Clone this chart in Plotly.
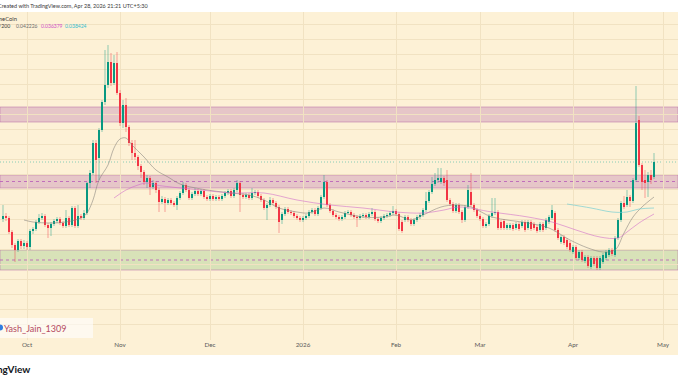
import numpy as np
import pandas as pd
import plotly.graph_objects as go

W, H = 678, 381

# ---------------- data (daily candles) ----------------
dates = pd.date_range("2025-09-23", "2026-04-28", freq="D")

open_ = [
    0.03535, 0.03640, 0.03570, 0.03080, 0.02625, 0.02450, 0.02765, 0.02590, 0.02695, 0.02555,
    0.03115, 0.03185, 0.03430, 0.03570, 0.03640, 0.03325, 0.03220, 0.03360, 0.03465, 0.03535,
    0.03395, 0.03290, 0.03570, 0.03325, 0.03920, 0.03290, 0.03640, 0.03570, 0.03745, 0.04795,
    0.05145, 0.06195, 0.05670, 0.06650, 0.07630, 0.08225, 0.09030, 0.08295, 0.08995, 0.07945,
    0.06895, 0.07525, 0.06755, 0.06195, 0.05845, 0.05705, 0.05390, 0.05180, 0.04830, 0.04970,
    0.04655, 0.04795, 0.04550, 0.04130, 0.04235, 0.04095, 0.04200, 0.04095, 0.04025, 0.04270,
    0.04445, 0.04725, 0.04550, 0.04270, 0.04410, 0.04515, 0.04410, 0.04515, 0.04305, 0.04235,
    0.04340, 0.04235, 0.04305, 0.04235, 0.04340, 0.04445, 0.04515, 0.04340, 0.04550, 0.04795,
    0.04375, 0.04305, 0.04375, 0.04270, 0.04445, 0.04480, 0.04340, 0.04200, 0.03920, 0.04025,
    0.04200, 0.04095, 0.03955, 0.03500, 0.03710, 0.03885, 0.03780, 0.03745, 0.03640, 0.03570,
    0.03500, 0.03570, 0.03640, 0.03780, 0.03850, 0.03710, 0.03920, 0.04305, 0.04830, 0.04025,
    0.03815, 0.03675, 0.03605, 0.03535, 0.03605, 0.03745, 0.03780, 0.03675, 0.03605, 0.03570,
    0.03640, 0.03675, 0.03605, 0.03710, 0.03780, 0.03535, 0.03465, 0.03570, 0.03640, 0.03675,
    0.03745, 0.03815, 0.03710, 0.03430, 0.03500, 0.03605, 0.03500, 0.03360, 0.03500, 0.03605,
    0.03675, 0.03850, 0.04165, 0.04480, 0.04760, 0.04900, 0.04830, 0.04970, 0.04900, 0.04200,
    0.04060, 0.03815, 0.04025, 0.03780, 0.03500, 0.03955, 0.04480, 0.04025, 0.03850, 0.03640,
    0.03535, 0.03290, 0.03360, 0.03640, 0.03745, 0.03780, 0.03430, 0.03465, 0.03220, 0.03220,
    0.03325, 0.03220, 0.03360, 0.03290, 0.03430, 0.03220, 0.03430, 0.03360, 0.03255, 0.03150,
    0.03360, 0.03220, 0.03430, 0.03570, 0.03745, 0.03150, 0.02730, 0.02905, 0.02800, 0.02695,
    0.02380, 0.02555, 0.02170, 0.02380, 0.02065, 0.02205, 0.01855, 0.02170, 0.02170, 0.01820,
    0.02030, 0.02170, 0.02275, 0.02450, 0.02275, 0.02870, 0.03500, 0.04095, 0.04025, 0.04305,
    0.04165, 0.04900, 0.07000, 0.05425, 0.04900, 0.04830, 0.05075, 0.05005,
]
high = [
    0.04025, 0.03745, 0.03640, 0.03150, 0.02695, 0.02835, 0.02835, 0.02800, 0.02765, 0.03185,
    0.03255, 0.03500, 0.03710, 0.03745, 0.03710, 0.03395, 0.03430, 0.03535, 0.03605, 0.03605,
    0.03465, 0.03850, 0.03640, 0.03990, 0.03990, 0.04025, 0.03710, 0.03850, 0.04830, 0.05250,
    0.06300, 0.06300, 0.06720, 0.07700, 0.09450, 0.09625, 0.09345, 0.09275, 0.09380, 0.08050,
    0.07700, 0.07770, 0.06825, 0.06300, 0.06300, 0.05775, 0.05460, 0.05250, 0.05075, 0.05040,
    0.04900, 0.04865, 0.04620, 0.04340, 0.04305, 0.04270, 0.04270, 0.04165, 0.04340, 0.04515,
    0.04830, 0.04795, 0.04620, 0.04480, 0.04620, 0.04585, 0.04585, 0.04585, 0.04375, 0.04410,
    0.04410, 0.04375, 0.04375, 0.04410, 0.04515, 0.04585, 0.04585, 0.04620, 0.04900, 0.04865,
    0.04445, 0.04445, 0.04445, 0.04620, 0.04550, 0.04550, 0.04410, 0.04270, 0.04095, 0.04305,
    0.04270, 0.04165, 0.04025, 0.03780, 0.03955, 0.03955, 0.03850, 0.03815, 0.03710, 0.03640,
    0.03640, 0.03710, 0.03850, 0.03920, 0.03920, 0.03990, 0.04375, 0.05075, 0.04900, 0.04095,
    0.03885, 0.03745, 0.03675, 0.03675, 0.03815, 0.03850, 0.03850, 0.03745, 0.03675, 0.03710,
    0.03745, 0.03745, 0.03780, 0.03920, 0.03850, 0.03605, 0.03640, 0.03710, 0.03745, 0.03815,
    0.03990, 0.03885, 0.03780, 0.03500, 0.03675, 0.03675, 0.03570, 0.03570, 0.03675, 0.03745,
    0.03920, 0.04480, 0.04550, 0.05005, 0.05145, 0.05320, 0.05320, 0.05040, 0.05250, 0.04270,
    0.04130, 0.04095, 0.04095, 0.03850, 0.04025, 0.04725, 0.05145, 0.04095, 0.03920, 0.03710,
    0.03605, 0.03430, 0.03710, 0.04270, 0.04270, 0.03850, 0.03500, 0.03535, 0.03395, 0.03395,
    0.03395, 0.03430, 0.03430, 0.03500, 0.03500, 0.03500, 0.03500, 0.03430, 0.03325, 0.03430,
    0.03430, 0.03570, 0.03675, 0.04025, 0.03815, 0.03220, 0.02975, 0.02975, 0.02870, 0.02765,
    0.02625, 0.02625, 0.02450, 0.02450, 0.02275, 0.02275, 0.02240, 0.02240, 0.02240, 0.02240,
    0.02345, 0.02450, 0.02520, 0.02520, 0.02940, 0.03570, 0.04165, 0.04340, 0.04550, 0.04375,
    0.04970, 0.08190, 0.07140, 0.05495, 0.05250, 0.05180, 0.05250, 0.05845,
]
low = [
    0.03430, 0.03465, 0.03010, 0.02520, 0.02030, 0.02380, 0.02485, 0.02485, 0.02450, 0.02450,
    0.03010, 0.03115, 0.03360, 0.03500, 0.03255, 0.02870, 0.02940, 0.03290, 0.03395, 0.03325,
    0.03220, 0.03220, 0.03255, 0.03255, 0.03220, 0.03220, 0.03500, 0.03500, 0.03675, 0.04620,
    0.05075, 0.04795, 0.04900, 0.06580, 0.07525, 0.08120, 0.08190, 0.08225, 0.07875, 0.06790,
    0.06720, 0.06580, 0.06090, 0.05600, 0.05600, 0.05250, 0.04970, 0.04725, 0.04620, 0.04375,
    0.04585, 0.04445, 0.03780, 0.04060, 0.03780, 0.04025, 0.04025, 0.03955, 0.03850, 0.04200,
    0.04375, 0.04480, 0.04200, 0.04200, 0.04340, 0.04340, 0.04340, 0.04235, 0.04165, 0.04165,
    0.04165, 0.04165, 0.04165, 0.04165, 0.04270, 0.04375, 0.04270, 0.04270, 0.04480, 0.03780,
    0.04235, 0.04235, 0.04200, 0.04200, 0.04375, 0.04270, 0.04130, 0.03850, 0.03500, 0.03955,
    0.04025, 0.03885, 0.03045, 0.03360, 0.03640, 0.03710, 0.03675, 0.03570, 0.03500, 0.03430,
    0.03430, 0.03500, 0.03570, 0.03710, 0.03640, 0.03640, 0.03850, 0.04235, 0.03955, 0.03745,
    0.03605, 0.03535, 0.03465, 0.03465, 0.03535, 0.03710, 0.03605, 0.03535, 0.03255, 0.03500,
    0.03570, 0.03535, 0.03535, 0.03640, 0.03465, 0.03395, 0.03395, 0.03500, 0.03570, 0.03605,
    0.03675, 0.03640, 0.03115, 0.03045, 0.03430, 0.03430, 0.03290, 0.03290, 0.03430, 0.03535,
    0.03605, 0.03780, 0.04095, 0.04410, 0.04690, 0.04795, 0.04760, 0.04690, 0.04130, 0.03990,
    0.03745, 0.03745, 0.03710, 0.03395, 0.03430, 0.03885, 0.03955, 0.03780, 0.03570, 0.03465,
    0.03220, 0.03220, 0.03290, 0.03570, 0.03675, 0.03150, 0.03150, 0.03150, 0.03150, 0.03150,
    0.03115, 0.03150, 0.03115, 0.03220, 0.03080, 0.03150, 0.03115, 0.03150, 0.03045, 0.03080,
    0.03080, 0.03150, 0.03360, 0.03500, 0.03080, 0.02800, 0.02660, 0.02625, 0.02485, 0.02380,
    0.02310, 0.02100, 0.02100, 0.02030, 0.01995, 0.01820, 0.01785, 0.01890, 0.01750, 0.01750,
    0.01960, 0.02100, 0.02205, 0.02240, 0.02205, 0.02800, 0.03430, 0.03885, 0.03955, 0.03955,
    0.04095, 0.04830, 0.05355, 0.04550, 0.04270, 0.04305, 0.04760, 0.04935,
]
close = [
    0.03640, 0.03570, 0.03080, 0.02625, 0.02450, 0.02765, 0.02590, 0.02695, 0.02555, 0.03115,
    0.03185, 0.03430, 0.03570, 0.03640, 0.03325, 0.03220, 0.03360, 0.03465, 0.03535, 0.03395,
    0.03290, 0.03570, 0.03325, 0.03920, 0.03290, 0.03640, 0.03570, 0.03745, 0.04795, 0.05145,
    0.06195, 0.05600, 0.06650, 0.07630, 0.08225, 0.09030, 0.08295, 0.08995, 0.07945, 0.06895,
    0.07525, 0.06755, 0.06195, 0.05845, 0.05705, 0.05390, 0.05180, 0.04830, 0.04970, 0.04655,
    0.04795, 0.04550, 0.04130, 0.04235, 0.04095, 0.04200, 0.04095, 0.04025, 0.04270, 0.04445,
    0.04725, 0.04550, 0.04270, 0.04410, 0.04515, 0.04410, 0.04515, 0.04305, 0.04235, 0.04340,
    0.04235, 0.04305, 0.04235, 0.04340, 0.04445, 0.04515, 0.04340, 0.04550, 0.04795, 0.04375,
    0.04305, 0.04375, 0.04270, 0.04445, 0.04480, 0.04340, 0.04200, 0.03920, 0.04025, 0.04200,
    0.04095, 0.03955, 0.03430, 0.03710, 0.03885, 0.03780, 0.03745, 0.03640, 0.03570, 0.03500,
    0.03570, 0.03640, 0.03780, 0.03850, 0.03710, 0.03920, 0.04305, 0.04830, 0.04025, 0.03815,
    0.03675, 0.03605, 0.03535, 0.03605, 0.03745, 0.03780, 0.03675, 0.03605, 0.03570, 0.03640,
    0.03675, 0.03605, 0.03710, 0.03780, 0.03535, 0.03465, 0.03570, 0.03640, 0.03675, 0.03745,
    0.03815, 0.03710, 0.03185, 0.03115, 0.03605, 0.03500, 0.03360, 0.03500, 0.03605, 0.03675,
    0.03850, 0.04165, 0.04480, 0.04760, 0.04900, 0.04970, 0.04970, 0.04795, 0.04200, 0.04060,
    0.03815, 0.04025, 0.03780, 0.03500, 0.03955, 0.04550, 0.04025, 0.03850, 0.03640, 0.03535,
    0.03290, 0.03360, 0.03640, 0.03745, 0.03780, 0.03220, 0.03220, 0.03220, 0.03325, 0.03325,
    0.03185, 0.03360, 0.03185, 0.03430, 0.03150, 0.03430, 0.03185, 0.03220, 0.03115, 0.03360,
    0.03150, 0.03500, 0.03605, 0.03850, 0.03150, 0.02870, 0.02905, 0.02695, 0.02555, 0.02450,
    0.02555, 0.02170, 0.02380, 0.02100, 0.02205, 0.01890, 0.02170, 0.01960, 0.01820, 0.02170,
    0.02275, 0.02380, 0.02450, 0.02310, 0.02870, 0.03500, 0.04095, 0.03955, 0.04305, 0.04165,
    0.04900, 0.06895, 0.05425, 0.04830, 0.04795, 0.05075, 0.04900, 0.05530,
]

# moving averages
ma20_dates = ["2025-09-30", "2025-10-03", "2025-10-09", "2025-10-14", "2025-10-19", "2025-10-21",
              "2025-10-23", "2025-10-25", "2025-10-28", "2025-10-30", "2025-11-01", "2025-11-03",
              "2025-11-05", "2025-11-09", "2025-11-13", "2025-11-17", "2025-11-21", "2025-11-28",
              "2025-12-08", "2025-12-14", "2025-12-19", "2025-12-24", "2025-12-30", "2026-01-03",
              "2026-01-08", "2026-01-13", "2026-01-21", "2026-01-28", "2026-02-01", "2026-02-06",
              "2026-02-10", "2026-02-16", "2026-02-21", "2026-02-26", "2026-03-05", "2026-03-17",
              "2026-03-24", "2026-03-31", "2026-04-06", "2026-04-11", "2026-04-15", "2026-04-18",
              "2026-04-21", "2026-04-24", "2026-04-28"]
ma20_vals = [0.035, 0.0343, 0.03395, 0.0343, 0.0357, 0.03745, 0.042, 0.049, 0.05425, 0.0602,
             0.06335, 0.0637, 0.06125, 0.05705, 0.0525, 0.05005, 0.0476, 0.04585, 0.04445, 0.04375,
             0.042, 0.0392, 0.0378, 0.03745, 0.0392, 0.0378, 0.03605, 0.03605, 0.03675, 0.035,
             0.03675, 0.03955, 0.04025, 0.03955, 0.03605, 0.03395, 0.0322, 0.028, 0.0252, 0.0238,
             0.0245, 0.03045, 0.03605, 0.03955, 0.04305]

ma50_dates = ["2025-10-30", "2025-11-03", "2025-11-07", "2025-11-10", "2025-11-13", "2025-11-18",
              "2025-11-28", "2025-12-08", "2025-12-19", "2025-12-30", "2026-01-10", "2026-01-21",
              "2026-02-01", "2026-02-10", "2026-02-17", "2026-02-22", "2026-03-05", "2026-03-17",
              "2026-03-25", "2026-04-02", "2026-04-10", "2026-04-16", "2026-04-19", "2026-04-23",
              "2026-04-28"]
ma50_vals = [0.0427, 0.0455, 0.04725, 0.04795, 0.04725, 0.04655, 0.0455, 0.04445, 0.04445, 0.042,
             0.04025, 0.0392, 0.0378, 0.03745, 0.0385, 0.03955, 0.0378, 0.03605, 0.0343, 0.0315,
             0.02905, 0.0287, 0.0308, 0.03395, 0.0371]

ma200_dates = ["2026-03-30", "2026-04-07", "2026-04-14", "2026-04-19", "2026-04-23", "2026-04-28"]
ma200_vals = [0.0406, 0.0392, 0.0378, 0.0378, 0.03885, 0.0392]

# support / resistance zones (low, high)
zone_upper = (0.0693, 0.07455)
zone_middle = (0.0462, 0.05075)
zone_lower = (0.0175, 0.0245)

tick_dates = ["2025-10-01", "2025-11-01", "2025-12-01", "2026-01-01",
              "2026-02-01", "2026-03-01", "2026-04-01", "2026-05-01"]
tick_labels = ["Oct", "Nov", "Dec", "2026", "Feb", "Mar", "Apr", "May"]

legend_values = ["0.042226", "0.036379", "0.038424"]

assert len(open_) == len(dates) == len(high) == len(low) == len(close), (
    len(open_), len(high), len(low), len(close), len(dates))

# ---------------- styling ----------------
BG = "#fdf1d6"
GRID = "#f1e2c2"
UP = "#089981"
DOWN = "#f23645"
UP_WICK = "rgba(8,153,129,0.45)"
DOWN_WICK = "rgba(242,54,69,0.45)"
FONT = "Lato"

X_RANGE = ["2025-09-22", "2026-05-06"]
Y_RANGE = [-0.007, 0.1078]
PLOT_TOP, PLOT_BOTTOM = 12, 340


def px_x(px):
    return px / W


def px_y(py):
    return (PLOT_BOTTOM - py) / (PLOT_BOTTOM - PLOT_TOP)


o = np.array(open_)
h = np.array(high)
l = np.array(low)
c = np.array(close)
up = c >= o
base = np.minimum(o, c)
body = np.maximum(np.abs(c - o), 0.00025)

fig = go.Figure()


def wicks(mask):
    xs, ys = [], []
    for d, lo, hi in zip(dates[mask], l[mask], h[mask]):
        xs += [d, d, None]
        ys += [lo, hi, None]
    return xs, ys


for mask, col in ((up, UP_WICK), (~up, DOWN_WICK)):
    xs, ys = wicks(mask)
    fig.add_trace(go.Scatter(x=xs, y=ys, mode="lines", line=dict(color=col, width=1),
                             hoverinfo="skip"))

day_ms = 86400000
for mask, col in ((up, UP), (~up, DOWN)):
    fig.add_trace(go.Bar(x=dates[mask], y=body[mask], base=base[mask], width=0.62 * day_ms,
                         marker=dict(color=col, line=dict(width=0))))

for xs, ys, col in ((ma20_dates, ma20_vals, "rgba(130,125,120,0.55)"),
                    (ma50_dates, ma50_vals, "rgba(205,100,200,0.55)"),
                    (ma200_dates, ma200_vals, "rgba(110,205,210,0.65)")):
    fig.add_trace(go.Scatter(x=xs, y=ys, mode="lines",
                             line=dict(color=col, width=1, shape="spline", smoothing=1.0),
                             hoverinfo="skip"))

shapes = []
# time-axis strip (beige, below plot)
shapes.append(dict(type="rect", xref="paper", yref="paper", x0=0, x1=1,
                   y0=px_y(355), y1=0, fillcolor=BG, line=dict(width=0), layer="below"))

ZONE_LINE = "rgba(185,115,170,0.55)"
DASH_LINE = "rgba(185,95,185,0.85)"
for (z0, z1), fill in ((zone_upper, "rgba(180,100,170,0.30)"),
                       (zone_middle, "rgba(180,100,170,0.30)"),
                       (zone_lower, "rgba(150,200,130,0.36)")):
    shapes.append(dict(type="rect", xref="x", yref="y", x0=X_RANGE[0], x1=X_RANGE[1],
                       y0=z0, y1=z1, fillcolor=fill, line=dict(color=ZONE_LINE, width=1),
                       layer="below"))
    mid = (z0 + z1) / 2
    shapes.append(dict(type="line", xref="x", yref="y", x0=X_RANGE[0], x1=X_RANGE[1],
                       y0=mid, y1=mid, line=dict(color=DASH_LINE, width=1, dash="3px,3px"),
                       layer="below"))

# last price line
shapes.append(dict(type="line", xref="x", yref="y", x0=X_RANGE[0], x1=X_RANGE[1],
                   y0=close[-1], y1=close[-1],
                   line=dict(color="rgba(60,180,160,0.6)", width=1, dash="1px,2px"),
                   layer="below"))

# watermark box
shapes.append(dict(type="rect", xref="paper", yref="paper", x0=px_x(0), x1=px_x(93),
                   y0=px_y(338), y1=px_y(318), fillcolor="rgba(255,255,255,0.6)",
                   line=dict(width=0), layer="above"))
shapes.append(dict(type="circle", xref="paper", yref="paper", x0=px_x(-3), x1=px_x(3),
                   y0=px_y(330.5), y1=px_y(324.5), fillcolor="#2f7de1",
                   line=dict(width=0), layer="above"))

annotations = [
    dict(text="Created with TradingView.com, Apr 28, 2026 21:21 UTC+5:30",
         x=px_x(-4.5), y=px_y(6), xanchor="left", yanchor="middle",
         font=dict(size=5.5, color="#3a3a3a", family=FONT)),
    dict(text="MemeCoin", x=px_x(19), y=px_y(18.5), xanchor="right", yanchor="middle",
         font=dict(size=5.8, color="#3a3a3a", family=FONT)),
    dict(text="MA 20/50/200", x=px_x(12), y=px_y(26.5), xanchor="right", yanchor="middle",
         font=dict(size=5.2, color="#3a3a3a", family=FONT)),
    dict(text=legend_values[0], x=px_x(14), y=px_y(26.5), xanchor="left", yanchor="middle",
         font=dict(size=5.0, color="#6e6e6e", family=FONT)),
    dict(text=legend_values[1], x=px_x(39), y=px_y(26.5), xanchor="left", yanchor="middle",
         font=dict(size=5.0, color="#d050c8", family=FONT)),
    dict(text=legend_values[2], x=px_x(63), y=px_y(26.5), xanchor="left", yanchor="middle",
         font=dict(size=5.0, color="#35bcd0", family=FONT)),
    dict(text="Yash_Jain_1309", x=px_x(2), y=px_y(328), xanchor="left", yanchor="middle",
         font=dict(size=9, color="#b44a62", family=FONT)),
    dict(text="<b>TradingView</b>", x=px_x(32), y=px_y(369), xanchor="right", yanchor="middle",
         font=dict(size=10, color="#131722", family=FONT)),
]
for a in annotations:
    a.update(xref="paper", yref="paper", showarrow=False)

fig.update_layout(
    width=W, height=H,
    margin=dict(l=0, r=0, t=PLOT_TOP, b=H - PLOT_BOTTOM),
    paper_bgcolor="white", plot_bgcolor=BG,
    showlegend=False, barmode="overlay",
    font=dict(family=FONT),
    shapes=shapes, annotations=annotations,
)
fig.update_xaxes(type="date", range=X_RANGE, tickvals=tick_dates, ticktext=tick_labels,
                 showgrid=True, gridcolor=GRID, gridwidth=1, ticks="",
                 tickfont=dict(size=6.3, color="#5a5a5a", family=FONT),
                 showline=False, zeroline=False, fixedrange=True)
fig.update_yaxes(range=Y_RANGE, showticklabels=False, showgrid=True, gridcolor=GRID,
                 tick0=-0.0014, dtick=0.00525, zeroline=False, showline=False, fixedrange=True)

fig.write_html("out.html", config={"displayModeBar": False},
               post_script="document.body.style.margin='0px';document.body.style.overflow='hidden';")
